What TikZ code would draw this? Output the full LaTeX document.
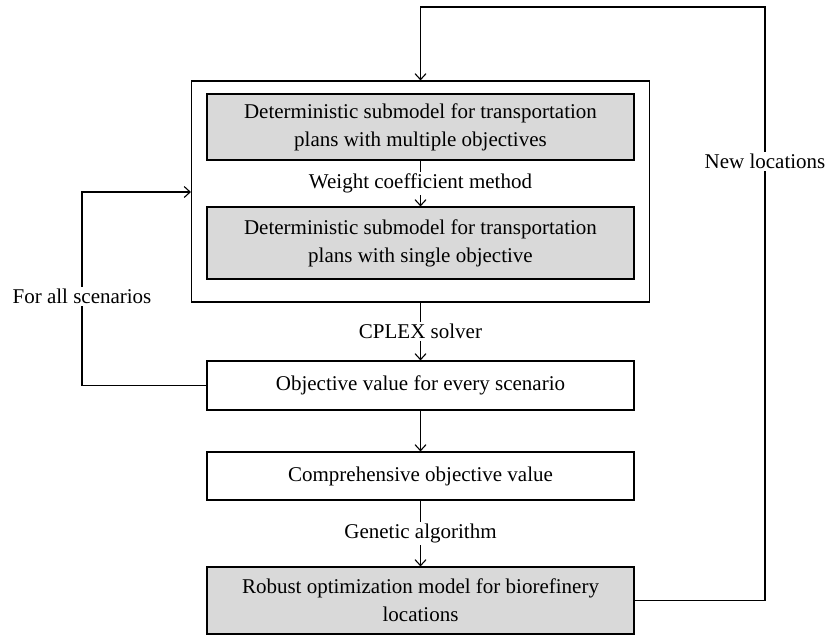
\documentclass[tikz,border=0pt]{standalone}
\usepackage{fontspec}
\setmainfont{Liberation Serif}
\usetikzlibrary{arrows.meta,positioning}

\tikzset{
  box/.style={draw, line width=1.1pt, minimum width=427pt, align=center,
    font=\fontsize{21}{28}\selectfont, inner sep=0pt},
  graybox/.style={box, fill=gray!30},
  lbl/.style={fill=white, font=\fontsize{21}{28}\selectfont, inner sep=2pt},
  arr/.style={-{Straight Barb[length=6pt,width=11pt]}, line width=1.1pt},
}

\begin{document}
\begin{tikzpicture}[x=1pt,y=-1pt]
      \useasboundingbox (0,0) rectangle (826,635);

      % The two deterministic submodels.
      \node[graybox, minimum height=66pt] (multi) at (420.5,127)
      {Deterministic submodel for transportation\\plans with multiple objectives};
      \node[graybox, minimum height=72pt] (single) at (420.5,243)
      {Deterministic submodel for transportation\\plans with single objective};

      % Frame round both submodels.
      \node[draw, line width=1.1pt, minimum width=458pt,
      minimum height=221pt] (frame) at (420.5,191.5) {};

      % The evaluation steps below.
      \node[box, minimum height=49pt] (obj) at (420.5,385.5)
      {Objective value for every scenario};
      \node[box, minimum height=48pt] (comp) at (420.5,476)
      {Comprehensive objective value};
      \node[graybox, minimum height=67pt] (robust) at (420.5,600.5)
      {Robust optimization model for biorefinery\\locations};

      % Downward flow.
      \draw[arr] (multi) -- node[lbl] {Weight coefficient method} (single);
      \draw[arr] (frame) -- node[lbl] {CPLEX solver} (obj);
      \draw[arr] (obj) -- (comp);
      \draw[arr] (comp) -- node[lbl] {Genetic algorithm} (robust);

      % Loop back over the scenarios.
      \coordinate (lturn) at (82,192);
      \draw[arr] (obj.west) -| node[lbl, pos=0.73] {For all scenarios} (lturn)
      -- (lturn -| frame.west);

      % Loop back with new locations.
      \coordinate (rturn) at (765,7);
      \draw[arr] (robust.east) -| node[lbl, pos=0.87] {New locations} (rturn)
      -| (frame.north);
\end{tikzpicture}
\end{document}
